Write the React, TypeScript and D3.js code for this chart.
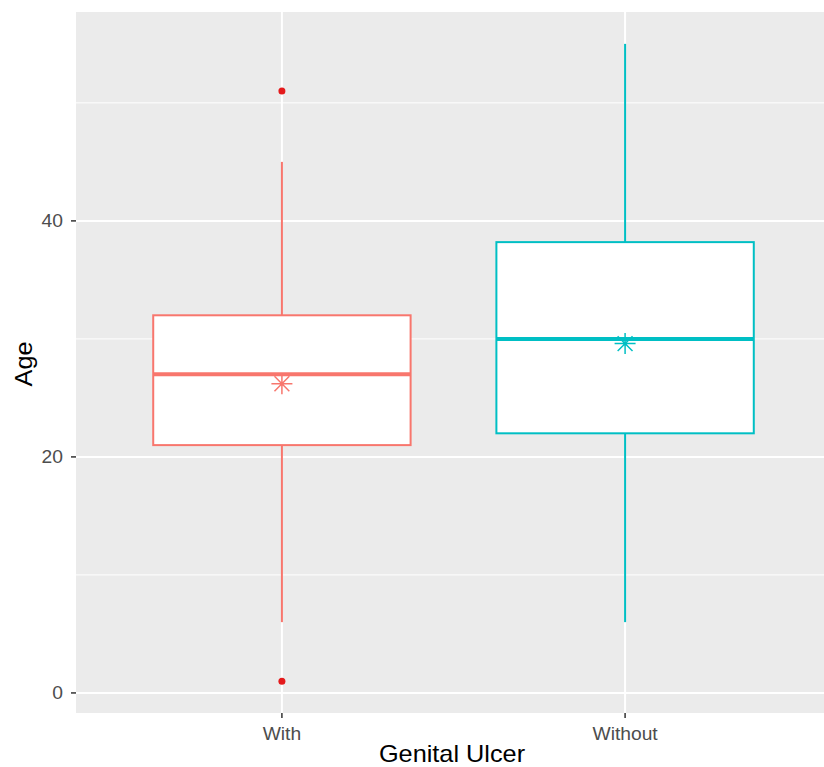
import React from "react";
import * as d3 from "d3";

// groups and their box stats
const groups = ["With", "Without"];
const colors = ["#F8766D", "#00BFC4"];
const lowWhisker = [6, 6];
const q1 = [21, 22];
const medians = [27, 30];
const q3 = [32, 38.2];
const highWhisker = [45, 55];
const means = [26.2, 29.6];
const outlierGroup = ["With", "With"];
const outlierValue = [51, 1];
const yTicks = [0, 20, 40];
const yMinor = [10, 30, 50];

const W = 824;
const H = 767;
const panel = { left: 76, top: 12, right: 831, bottom: 713 };
const font = "Liberation Sans, Arial, sans-serif";

export default function App() {
  // discrete axis like ggplot: positions 1..n, expanded by 0.6 each side
  const xPos = d3.scaleLinear().domain([0.4, groups.length + 0.6]).range([panel.left, panel.right]);
  const center = (g: string) => xPos(groups.indexOf(g) + 1);
  const boxHalf = xPos(1.375) - xPos(1);
  const y = d3.scaleLinear().domain([-1.7, 57.7]).range([panel.bottom, panel.top]);

  const star = (cx: number, cy: number, r: number) =>
    [0, 45, 90, 135]
      .map((a) => {
        const t = (a * Math.PI) / 180;
        return `M${cx - r * Math.cos(t)},${cy - r * Math.sin(t)}L${cx + r * Math.cos(t)},${cy + r * Math.sin(t)}`;
      })
      .join("");

  return (
    <svg width={W} height={H} style={{ position: "absolute", left: 0, top: 0 }}>
      <rect x={panel.left} y={panel.top} width={panel.right - panel.left} height={panel.bottom - panel.top} fill="#EBEBEB" />
      {yMinor.map((v) => (
        <line key={"mn" + v} x1={panel.left} x2={panel.right} y1={y(v)} y2={y(v)} stroke="#fff" strokeWidth={1} />
      ))}
      {yTicks.map((v) => (
        <line key={"mj" + v} x1={panel.left} x2={panel.right} y1={y(v)} y2={y(v)} stroke="#fff" strokeWidth={2} />
      ))}
      {groups.map((g) => (
        <line key={"gx" + g} x1={center(g)} x2={center(g)} y1={panel.top} y2={panel.bottom} stroke="#fff" strokeWidth={2} />
      ))}
      {yTicks.map((v) => (
        <g key={"yt" + v}>
          <line x1={panel.left - 5} x2={panel.left} y1={y(v)} y2={y(v)} stroke="#333" strokeWidth={1.5} />
          <text transform={`translate(${panel.left - 13},${y(v)}) scale(1.1,1)`} dy="0.35em" textAnchor="end" fontFamily={font} fontSize={17.5} fill="#4D4D4D">
            {v}
          </text>
        </g>
      ))}
      {groups.map((g) => (
        <g key={"xt" + g}>
          <line x1={center(g)} x2={center(g)} y1={panel.bottom} y2={panel.bottom + 5} stroke="#333" strokeWidth={1.5} />
          <text transform={`translate(${center(g)},${panel.bottom + 27}) scale(1.1,1)`} textAnchor="middle" fontFamily={font} fontSize={17.5} fill="#4D4D4D">
            {g}
          </text>
        </g>
      ))}
      {groups.map((g, i) => {
        const cx = center(g);
        const c = colors[i];
        return (
          <g key={"box" + g}>
            <line x1={cx} x2={cx} y1={y(q3[i])} y2={y(highWhisker[i])} stroke={c} strokeWidth={2} />
            <line x1={cx} x2={cx} y1={y(q1[i])} y2={y(lowWhisker[i])} stroke={c} strokeWidth={2} />
            <rect x={cx - boxHalf} y={y(q3[i])} width={boxHalf * 2} height={y(q1[i]) - y(q3[i])} fill="#fff" stroke={c} strokeWidth={2} />
            <line x1={cx - boxHalf} x2={cx + boxHalf} y1={y(medians[i])} y2={y(medians[i])} stroke={c} strokeWidth={4} />
            <path d={star(cx, y(means[i]), 10.5)} stroke={c} strokeWidth={1.5} fill="none" />
          </g>
        );
      })}
      {outlierValue.map((v, i) => (
        <circle key={"o" + i} cx={center(outlierGroup[i])} cy={y(v)} r={3.5} fill="#E41A1C" />
      ))}
      <text transform={`translate(452,762) scale(1.1,1)`} textAnchor="middle" fontFamily={font} fontSize={23} fill="#000">
        Genital Ulcer
      </text>
      <text transform={`translate(32,364) rotate(-90) scale(1.1,1)`} textAnchor="middle" fontFamily={font} fontSize={23} fill="#000">
        Age
      </text>
    </svg>
  );
}
